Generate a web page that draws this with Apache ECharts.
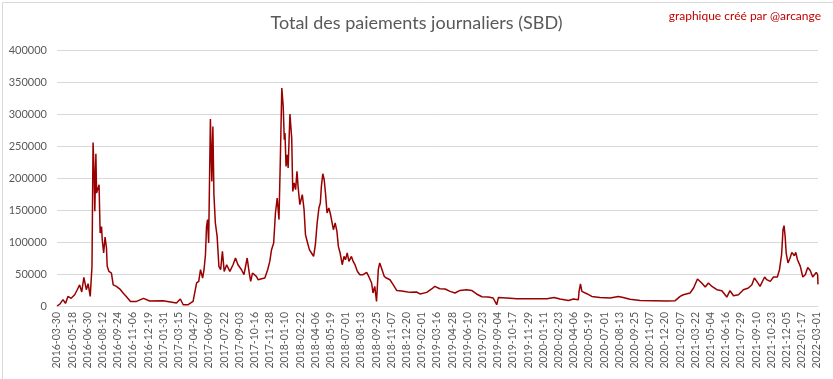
<!DOCTYPE html>
<html><head><meta charset="utf-8">
<script src="https://cdn.jsdelivr.net/npm/echarts@6/dist/echarts.min.js"></script>
<style>html,body{margin:0;padding:0;background:#fff}#c{width:833px;height:379px}</style>
</head><body><div id="c"></div>
<script>
const tickLabels = ["2016-03-30","2016-05-18","2016-06-30","2016-08-12","2016-09-24","2016-11-06","2016-12-19","2017-01-31","2017-03-15","2017-04-27","2017-06-09","2017-07-22","2017-09-03","2017-10-16","2017-11-28","2018-01-10","2018-02-22","2018-04-06","2018-05-19","2018-07-01","2018-08-13","2018-09-25","2018-11-07","2018-12-20","2019-02-01","2019-03-16","2019-04-28","2019-06-10","2019-07-23","2019-09-04","2019-10-17","2019-11-29","2020-01-11","2020-02-23","2020-04-06","2020-05-19","2020-07-01","2020-08-13","2020-09-25","2020-11-07","2020-12-20","2021-02-07","2021-03-22","2021-05-04","2021-06-16","2021-07-29","2021-09-10","2021-10-23","2021-12-05","2022-01-17","2022-03-01"];
const labelStep = 43;
const lastDay = 2153;
const sampleDays = [0,8,17,24,31,40,50,57,64,70,76,83,88,94,99,102,105,107,110,112,116,119,122,126,128,132,136,140,142,147,154,159,168,178,187,196,208,225,245,262,300,338,349,357,371,385,395,401,406,412,416,420,423,426,429,434,438,441,444,448,453,458,463,468,473,480,489,498,505,512,522,529,538,544,548,553,564,569,579,588,596,602,607,613,618,623,628,632,636,640,643,645,648,651,654,659,664,667,671,675,679,682,687,694,699,703,709,714,720,726,731,736,741,745,748,752,756,760,764,769,773,778,782,787,792,796,801,807,812,816,821,826,833,838,843,850,857,866,876,882,890,894,899,904,909,913,918,926,932,942,951,961,970,984,999,1017,1027,1046,1060,1069,1083,1098,1112,1126,1140,1159,1173,1187,1202,1220,1234,1244,1249,1272,1301,1348,1386,1406,1423,1447,1461,1475,1477,1481,1485,1499,1513,1536,1565,1588,1602,1621,1650,1687,1725,1749,1763,1772,1791,1801,1812,1824,1834,1843,1853,1867,1881,1895,1904,1914,1928,1942,1956,1966,1973,1980,1989,2002,2008,2018,2027,2038,2044,2050,2054,2057,2060,2063,2068,2074,2079,2086,2090,2095,2103,2110,2117,2124,2131,2138,2143,2148,2152,2153];
const paymentValues = [0,3000,10000,4000,15000,12000,17600,25000,33000,22000,44700,25500,34800,15000,62000,255600,208000,148000,238000,176500,184000,189500,114000,124000,103600,82800,107800,90600,62000,54000,51500,33000,30600,26500,20300,15000,7200,7200,11900,7800,8300,4700,11000,2000,2000,7200,36000,38400,56700,43700,56700,80000,124000,135000,98400,292000,194700,280600,173900,129700,108800,62000,56700,85300,54000,64500,54000,64500,75000,64500,56700,48900,75000,51500,38400,51500,46200,41000,42700,43700,56700,69700,88000,98400,145300,168800,135000,232000,340600,311900,259800,270300,218100,236400,215600,300000,262500,179000,192200,181700,210300,186900,158300,173900,150500,111400,98400,88000,82800,77500,95800,129700,153100,160900,186900,206700,197300,173900,145300,153100,145300,147800,119200,129700,116600,93100,82800,64500,77500,72300,82800,69700,77500,69700,64500,54000,48900,48900,52500,46200,36000,20300,30600,7200,56700,67200,59400,46200,43700,41000,33300,24400,23900,22800,21300,21900,18800,21300,26600,30600,27000,26600,22800,20300,24400,25500,24400,18800,14500,14000,12500,2000,13400,12500,11400,11400,11400,13400,10900,8700,10900,9800,22800,34400,22800,19200,15000,13400,12500,15000,13400,10500,8700,8300,7800,8300,15000,17600,20300,28100,42200,36000,29700,36000,30600,25500,23900,14000,23900,16100,17600,25500,28100,33300,43700,38400,30600,45300,41100,38400,45300,45300,56700,80200,119200,125500,108800,82800,67200,75000,83800,78600,83800,72300,61900,45300,48900,60300,55600,45300,48900,52500,48900,33800];
const yTicks = [0,50000,100000,150000,200000,250000,300000,350000,400000];

const chart = echarts.init(document.getElementById('c'), null, {renderer:'canvas'});
const font = 'Lato, "Liberation Sans", sans-serif';
chart.setOption({
  animation:false,
  backgroundColor:'#ffffff',
  title:{text:'Total des paiements journaliers (SBD)',left:'center',top:9,
    textStyle:{fontFamily:font,fontSize:18,fontWeight:'normal',color:'#595959'}},
  graphic:[
    {type:'rect',left:0,top:0,shape:{width:832,height:378},style:{fill:'none',stroke:'#d9d9d9',lineWidth:1},silent:true},
    {type:'text',right:12,top:10,style:{text:'graphique créé par @arcange',font:'12px '+font,fill:'#c00000'}}
  ],
  grid:{left:57,right:15,top:50,bottom:73,containLabel:false},
  xAxis:{type:'value',min:0,max:lastDay,interval:labelStep,
    axisLine:{show:true,lineStyle:{color:'#d9d9d9'}},axisTick:{show:false},splitLine:{show:false},
    axisLabel:{rotate:90,margin:6,fontFamily:font,fontSize:10.5,color:'#595959',showMaxLabel:false,
      formatter:function(v){ if(v % labelStep !== 0) return ''; const i=v/labelStep; return tickLabels[i]||''; }}},
  yAxis:{type:'value',min:yTicks[0],max:yTicks[yTicks.length-1],interval:50000,
    axisLine:{show:false},axisTick:{show:false},
    splitLine:{lineStyle:{color:'#d9d9d9',width:1}},
    axisLabel:{margin:10,fontFamily:font,fontSize:11,color:'#595959',formatter:function(v){return String(v);}}},
  series:[{type:'line',data:sampleDays.map((d,i)=>[d,paymentValues[i]]),showSymbol:false,
    lineStyle:{color:'#990000',width:1.5},itemStyle:{color:'#990000'}}]
});
</script></body></html>
